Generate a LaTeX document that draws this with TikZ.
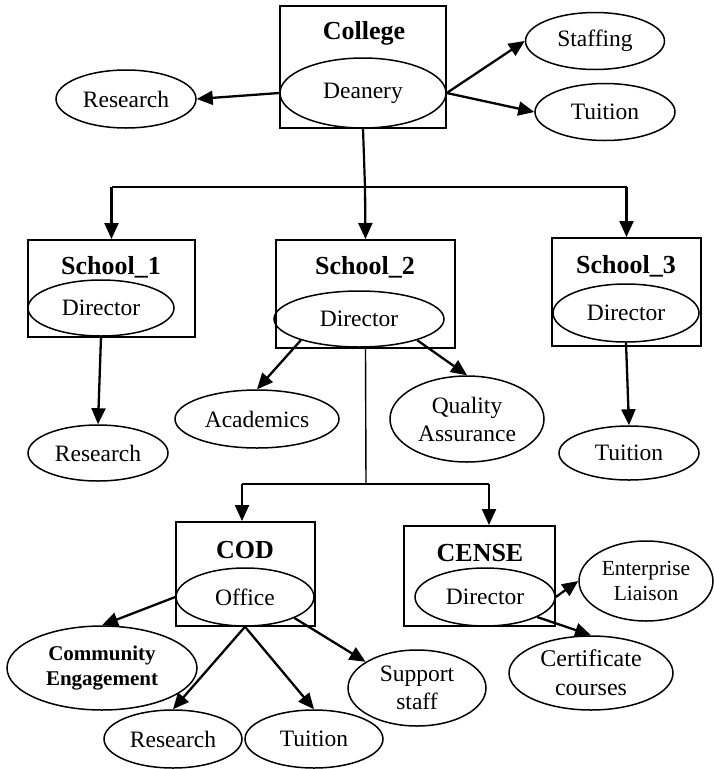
\documentclass[tikz,border=0pt]{standalone}
\usepackage{fontspec}
\setmainfont{Liberation Serif}
\usetikzlibrary{shapes.geometric,arrows.meta}
\begin{document}
\begin{tikzpicture}[x=1pt,y=-1pt,
  ell/.style={ellipse,draw,line width=1.5pt,inner sep=0pt,align=center,font=\fontsize{23.5}{27}\selectfont},
  box/.style={rectangle,draw,line width=2pt,inner sep=0pt},
  ttl/.style={font=\fontsize{26}{30}\selectfont\bfseries},
  arr/.style={line width=2.3pt,-{Triangle[length=16pt,width=14pt]}},
  ln/.style={line width=2.2pt},
  thin/.style={line width=1.4pt}]
\useasboundingbox (0,0) rectangle (713,769);
% College
\node[box,minimum width=166pt,minimum height=122pt] (college) at (363,67) {};
\node[ttl] (collegeT) at (364,33) {College};
\node[ell,minimum width=166pt,minimum height=70pt] (dean) at (363,93) {Deanery};
\node[ell,minimum width=140pt,minimum height=58pt] (res1) at (126,99) {Research};
\node[ell,minimum width=139pt,minimum height=57pt] (staff) at (595,41) {Staffing};
\node[ell,minimum width=140pt,minimum height=57pt] (tuit1) at (605,112) {Tuition};
\draw[arr] (dean.west) -- (res1.east);
\draw[arr] (dean.east) -- (staff.west);
\draw[arr] (dean.east) -- (tuit1.west);
% trunk
\coordinate (j1) at (365,187);
\coordinate (jL) at (111.5,187);
\coordinate (jR) at (626.5,187);
\draw[ln] (dean.south) -- (j1);
\draw[ln] (jL) -- (jR);
% Schools
\node[box,minimum width=167pt,minimum height=97pt] (sch1) at (111.5,288.5) {};
\node[ttl] (sch1T) at (111,267) {School\_1};
\node[ell,minimum width=146pt,minimum height=56pt] (d1) at (101,308) {Director};
\node[box,minimum width=179pt,minimum height=108pt] (sch2) at (365.5,294) {};
\node[ttl] (sch2T) at (365,267) {School\_2};
\node[ell,minimum width=170pt,minimum height=56pt] (d2) at (359,319) {Director};
\node[box,minimum width=149pt,minimum height=108pt] (sch3) at (626.5,292) {};
\node[ttl] (sch3T) at (626,266) {School\_3};
\node[ell,minimum width=146pt,minimum height=58pt] (d3) at (626,313) {Director};
\draw[arr] (jL) -- (sch1.north);
\draw[arr] (j1) -- (sch2.north);
\draw[arr] (jR) -- (sch3.north);
% school children
\node[ell,minimum width=140pt,minimum height=56pt] (res2) at (98,453) {Research};
\node[ell,minimum width=164pt,minimum height=58pt] (acad) at (257,419) {Academics};
\node[ell,minimum width=154pt,minimum height=86pt] (qa) at (467,419) {Quality\\[1pt]Assurance};
\node[ell,minimum width=140pt,minimum height=54pt] (tuit2) at (629,453) {Tuition};
\draw[arr] (d1.south) -- (res2.north);
\draw[arr] (d2.-160) -- (acad.north);
\draw[arr] (d2.-20) -- (qa.north);
\draw[arr] (d3.south) -- (tuit2.north);
% second trunk
\coordinate (j2) at (366,484);
\coordinate (jc) at (242,484);
\coordinate (je) at (489,484);
\draw[thin] (sch2.south) -- (j2);
\draw[ln] (jc) -- (je);
% COD and CENSE
\node[box,minimum width=139pt,minimum height=104pt] (cod) at (245.5,574) {};
\node[ttl] (codT) at (245,550) {COD};
\node[ell,minimum width=138pt,minimum height=58pt] (office) at (245,597) {Office};
\node[box,minimum width=151pt,minimum height=100pt] (cense) at (479.5,576) {};
\node[ttl] (censeT) at (480,553) {CENSE};
\node[ell,minimum width=140pt,minimum height=58pt] (cdir) at (485,597) {Director};
\draw[arr] (jc) -- (jc |- cod.north);
\draw[arr] (je) -- (je |- cense.north);
% COD children
\node[ell,minimum width=190pt,minimum height=84pt,font=\fontsize{21}{25}\selectfont\bfseries] (comm) at (102,668) {Community\\Engagement};
\node[ell,minimum width=138pt,minimum height=58pt] (res3) at (173,739) {Research};
\node[ell,minimum width=138pt,minimum height=58pt] (tuit3) at (314,739) {Tuition};
\node[ell,minimum width=138pt,minimum height=76pt] (supp) at (417,688) {Support\\[1pt]staff};
\draw[arr] (office.west) -- (comm.north);
\draw[arr] (office.south) -- (res3.north);
\draw[arr] (office.south) -- (tuit3.north);
\draw[arr] (office.-23) -- (supp.153);
% CENSE children
\node[ell,minimum width=134pt,minimum height=80pt,font=\fontsize{21.5}{25}\selectfont] (ent) at (646,581) {Enterprise\\Liaison};
\node[ell,minimum width=164pt,minimum height=74pt,font=\fontsize{24}{29}\selectfont] (cert) at (591,673) {Certificate\\courses};
\draw[arr] (cdir.east) -- (ent.west);
\draw[arr] (cdir.-21) -- (cert.north);
\end{tikzpicture}
\end{document}
